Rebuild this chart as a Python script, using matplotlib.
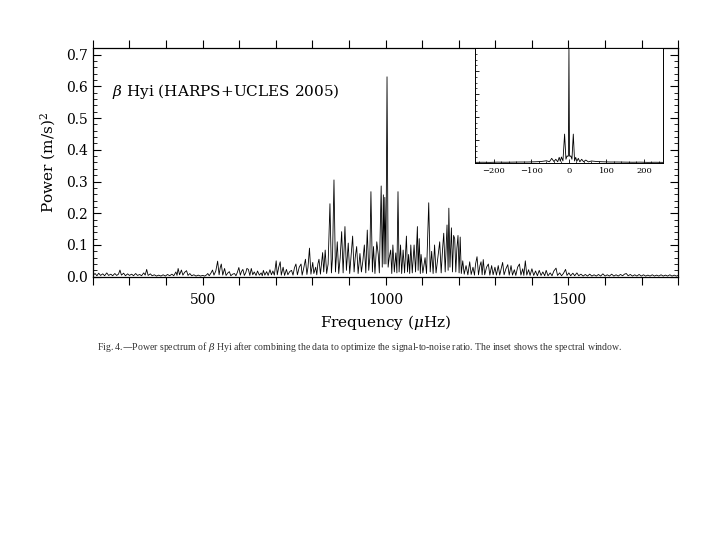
import matplotlib.pyplot as plt
import matplotlib.ticker as mticker
import numpy as np

plt.rcParams["font.family"] = "DejaVu Serif"
plt.rcParams["mathtext.fontset"] = "dejavuserif"

# Power spectrum (peaks and troughs), muHz and (m/s)^2
freq_low = [200, 206, 211, 216, 221, 227, 232, 238, 243, 249, 254, 260, 265, 270, 274, 278,
            284, 289, 295, 300, 306, 311, 317, 322, 328, 333, 339, 343, 347, 351, 357, 362,
            368, 374, 380, 386, 392, 398, 404, 410, 416, 421, 427, 430, 433, 437, 442, 446,
            451, 456, 460, 465, 470, 476, 482, 488, 494, 500, 506, 511, 514, 518, 523, 527,
            531, 536, 541, 545, 548, 551, 555, 560, 564, 569, 573, 577, 582, 587, 591, 595,
            599, 603, 606, 610, 614, 618, 621, 625, 629, 633, 637, 641, 646, 650, 655, 660,
            663, 666, 670, 675, 679, 684, 688, 692, 696]
power_low = [0.004, 0.010, 0.003, 0.011, 0.004, 0.009, 0.003, 0.012, 0.004, 0.008, 0.003, 0.010,
             0.004, 0.008, 0.021, 0.005, 0.011, 0.003, 0.009, 0.004, 0.008, 0.003, 0.010, 0.004,
             0.007, 0.003, 0.012, 0.005, 0.023, 0.004, 0.009, 0.003, 0.006, 0.002, 0.005, 0.002,
             0.006, 0.002, 0.007, 0.003, 0.008, 0.003, 0.015, 0.004, 0.026, 0.006, 0.021, 0.005,
             0.014, 0.019, 0.004, 0.010, 0.003, 0.006, 0.002, 0.005, 0.002, 0.004, 0.002, 0.006,
             0.010, 0.003, 0.012, 0.021, 0.005, 0.018, 0.049, 0.006, 0.028, 0.040, 0.005, 0.026,
             0.004, 0.012, 0.016, 0.003, 0.008, 0.010, 0.003, 0.014, 0.029, 0.005, 0.016, 0.023,
             0.004, 0.013, 0.026, 0.023, 0.004, 0.026, 0.006, 0.015, 0.004, 0.018, 0.005, 0.012,
             0.003, 0.020, 0.005, 0.016, 0.004, 0.022, 0.006, 0.018, 0.005]

freq_mid = [701, 704, 708, 712, 715, 720, 724, 729, 733, 738, 743, 747, 751, 755, 759, 764,
            769, 772, 776, 781, 785, 788, 792, 796, 801, 804, 809, 812, 815, 818, 822, 828,
            831, 835, 839, 843, 848, 852, 855, 859, 863, 868, 872, 876, 880, 884, 889, 893,
            898, 902, 906, 910, 914, 917, 921, 925, 930, 934, 938, 942, 946, 950, 954, 957,
            960, 964, 967, 971, 976, 980, 983, 988, 991, 994, 996, 998, 1001, 1004, 1007, 1010,
            1014, 1017, 1020, 1024, 1028, 1031, 1034, 1037, 1041, 1044, 1048, 1052, 1057, 1060,
            1063, 1066, 1069, 1073, 1078, 1082, 1087, 1089, 1092, 1095, 1097, 1102, 1108, 1112,
            1118, 1122, 1126, 1130, 1134, 1138, 1143, 1148, 1152, 1156, 1159, 1163, 1168, 1171,
            1173, 1176, 1180, 1183, 1186, 1189, 1192, 1195, 1198, 1201, 1204, 1207, 1211, 1215,
            1220, 1225, 1230, 1234, 1239, 1243, 1246, 1250, 1254]
power_mid = [0.050, 0.006, 0.030, 0.047, 0.005, 0.030, 0.004, 0.023, 0.006, 0.016, 0.020, 0.005,
             0.028, 0.040, 0.006, 0.030, 0.040, 0.005, 0.025, 0.055, 0.007, 0.030, 0.090, 0.008,
             0.045, 0.010, 0.030, 0.006, 0.040, 0.055, 0.008, 0.076, 0.015, 0.084, 0.010, 0.040,
             0.230, 0.012, 0.060, 0.305, 0.015, 0.110, 0.010, 0.060, 0.142, 0.012, 0.158, 0.020,
             0.106, 0.010, 0.070, 0.128, 0.015, 0.060, 0.095, 0.010, 0.073, 0.015, 0.050, 0.100,
             0.012, 0.147, 0.020, 0.060, 0.268, 0.015, 0.095, 0.010, 0.110, 0.070, 0.012, 0.286,
             0.030, 0.258, 0.040, 0.250, 0.040, 0.630, 0.030, 0.060, 0.084, 0.010, 0.100, 0.015,
             0.075, 0.012, 0.268, 0.015, 0.100, 0.010, 0.084, 0.012, 0.128, 0.015, 0.070, 0.010,
             0.100, 0.012, 0.100, 0.015, 0.158, 0.020, 0.120, 0.010, 0.070, 0.012, 0.060, 0.010,
             0.233, 0.015, 0.080, 0.010, 0.100, 0.012, 0.060, 0.110, 0.012, 0.090, 0.137, 0.015,
             0.163, 0.020, 0.216, 0.030, 0.154, 0.015, 0.130, 0.120, 0.015, 0.090, 0.130, 0.012,
             0.125, 0.010, 0.050, 0.008, 0.035, 0.006, 0.047, 0.007, 0.030, 0.005, 0.040, 0.063,
             0.006]

freq_high = [1258, 1261, 1264, 1267, 1271, 1276, 1281, 1285, 1290, 1294, 1299, 1303, 1308, 1312,
             1316, 1320, 1324, 1329, 1334, 1338, 1343, 1347, 1352, 1356, 1361, 1366, 1370, 1375,
             1378, 1382, 1386, 1391, 1395, 1400, 1405, 1410, 1415, 1420, 1425, 1430, 1435, 1439,
             1444, 1450, 1455, 1460, 1466, 1470, 1476, 1481, 1486, 1492, 1496, 1501, 1506, 1512,
             1517, 1523, 1528, 1534, 1540, 1546, 1552, 1558, 1564, 1570, 1576, 1582, 1588, 1594,
             1600, 1606, 1612, 1618, 1624, 1630, 1636, 1642, 1648, 1653, 1658, 1663, 1669, 1675,
             1681, 1687, 1693, 1699, 1705, 1711, 1717, 1723, 1729, 1735, 1741, 1747, 1753, 1759,
             1765, 1771, 1777, 1783, 1789, 1795, 1800]
power_high = [0.035, 0.047, 0.006, 0.054, 0.006, 0.030, 0.040, 0.005, 0.035, 0.006, 0.030, 0.005,
              0.035, 0.005, 0.025, 0.045, 0.006, 0.025, 0.038, 0.005, 0.035, 0.005, 0.022, 0.004,
              0.030, 0.040, 0.005, 0.025, 0.004, 0.050, 0.005, 0.022, 0.004, 0.025, 0.004, 0.018,
              0.003, 0.020, 0.004, 0.015, 0.003, 0.020, 0.003, 0.012, 0.003, 0.018, 0.027, 0.004,
              0.012, 0.003, 0.010, 0.023, 0.004, 0.012, 0.003, 0.011, 0.003, 0.012, 0.003, 0.008,
              0.002, 0.007, 0.002, 0.008, 0.002, 0.006, 0.002, 0.007, 0.002, 0.009, 0.002, 0.006,
              0.002, 0.008, 0.002, 0.006, 0.002, 0.007, 0.003, 0.008, 0.010, 0.003, 0.007, 0.002,
              0.006, 0.002, 0.007, 0.002, 0.006, 0.002, 0.005, 0.002, 0.006, 0.002, 0.005, 0.002,
              0.006, 0.002, 0.005, 0.002, 0.006, 0.002, 0.005, 0.002, 0.004]

# Spectral window (inset)
window_freq = [-250, -230, -210, -190, -170, -150, -130, -110, -90, -75, -60, -52, -46, -40, -35,
               -30, -26, -23, -20, -16, -11.6, -8, -5, -3, -1.5, 0, 1.5, 3, 5, 8, 11.6, 15, 18,
               21, 25, 29, 34, 39, 45, 52, 60, 75, 90, 110, 130, 150, 170, 190, 210, 230, 250]
window_power = [0.003, 0.004, 0.003, 0.005, 0.004, 0.005, 0.006, 0.006, 0.008, 0.010, 0.017,
                0.008, 0.038, 0.010, 0.030, 0.008, 0.047, 0.012, 0.050, 0.015, 0.250, 0.030,
                0.060, 0.055, 0.060, 1.000, 0.060, 0.055, 0.060, 0.030, 0.250, 0.015, 0.047,
                0.012, 0.038, 0.008, 0.030, 0.008, 0.023, 0.007, 0.015, 0.010, 0.008, 0.006,
                0.006, 0.005, 0.004, 0.005, 0.003, 0.004, 0.003]

caption = ("Fig. 4.\u2014Power spectrum of $\\beta$ Hyi after combining the data to optimize "
           "the signal-to-noise ratio. The inset shows the spectral window.")

freq = freq_low + freq_mid + freq_high
power = power_low + power_mid + power_high

fig = plt.figure(figsize=(7.2, 5.4), dpi=100)
fig.patch.set_facecolor("white")

ax = fig.add_axes([0.129, 0.4876, 0.813, 0.423])
ax.plot(freq, power, color="black", lw=0.6)
ax.set_xlim(200, 1800)
ax.set_ylim(0, 0.72)

ax.xaxis.set_major_locator(mticker.MultipleLocator(500))
ax.xaxis.set_minor_locator(mticker.MultipleLocator(100))
ax.yaxis.set_major_locator(mticker.MultipleLocator(0.1))
ax.yaxis.set_minor_locator(mticker.MultipleLocator(0.02))
ax.yaxis.set_major_formatter(mticker.FormatStrFormatter("%.1f"))
ax.tick_params(axis="x", which="both", direction="out", top=True, length=6, width=0.8,
               labelsize=10, pad=6)
ax.tick_params(axis="y", which="major", direction="in", right=True, length=6, width=0.8,
               labelsize=10)
ax.tick_params(axis="y", which="minor", direction="in", right=True, length=3, width=0.6)
for s in ax.spines.values():
    s.set_linewidth(0.9)

ax.set_xlabel("Frequency ($\\mu$Hz)", fontsize=11, labelpad=4)
ax.set_ylabel("Power (m/s)$^2$", fontsize=11, labelpad=6)
ax.text(252, 0.583, "$\\beta$ Hyi (HARPS+UCLES 2005)", fontsize=11, va="center", ha="left")

# inset with the spectral window
axi = fig.add_axes([0.66, 0.6987, 0.2604, 0.2119])
axi.plot(window_freq, window_power, color="black", lw=0.6)
axi.set_xlim(-250, 250)
axi.set_ylim(0, 1.0)
axi.xaxis.set_major_locator(mticker.MultipleLocator(100))
axi.xaxis.set_minor_locator(mticker.MultipleLocator(20))
axi.yaxis.set_major_locator(mticker.MultipleLocator(0.2))
axi.yaxis.set_minor_locator(mticker.MultipleLocator(0.05))
axi.tick_params(axis="both", which="major", direction="in", length=3, width=0.6,
                labelsize=6, pad=3, labelleft=False)
axi.tick_params(axis="both", which="minor", direction="in", length=1.5, width=0.5)
for s in axi.spines.values():
    s.set_linewidth(0.7)

fig.text(0.135, 0.357, caption, fontsize=7.0, family="Liberation Serif", color="#333333",
         va="center", ha="left")

fig.savefig("out.png", dpi=100)
